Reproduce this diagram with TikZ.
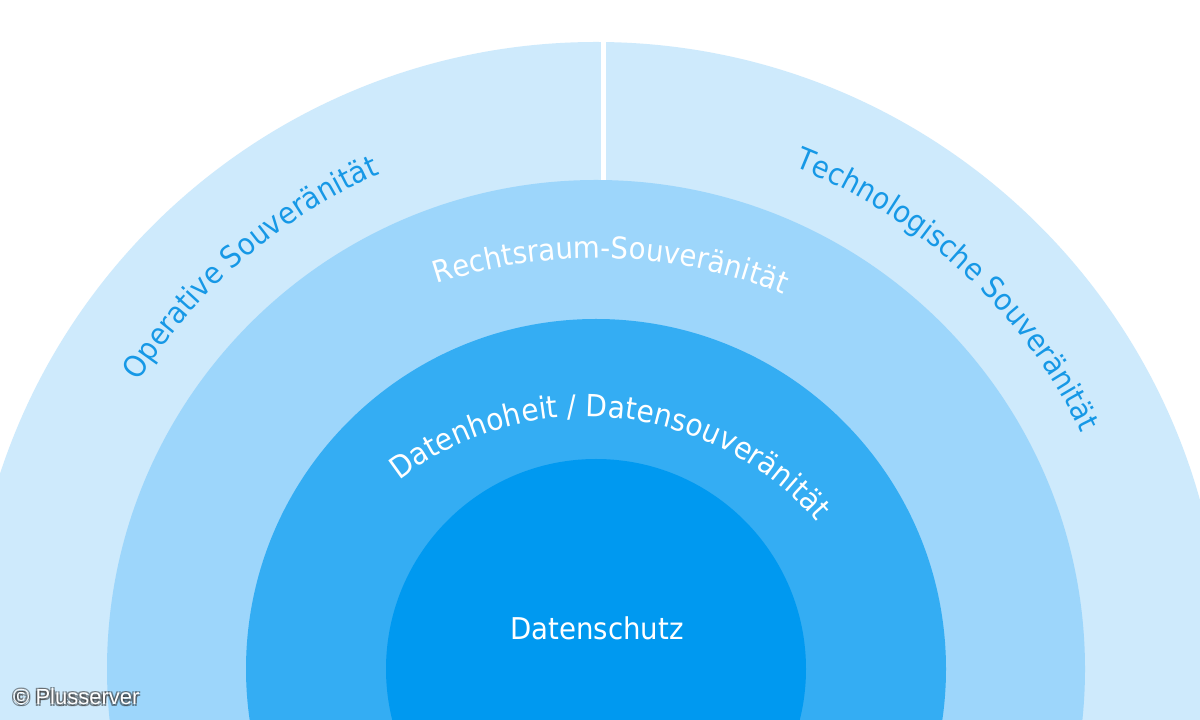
\documentclass[tikz,border=0pt]{standalone}
\usepackage{fontspec}
\usetikzlibrary{decorations.text}
\newfontfamily\tfont{DejaVu Sans}[FakeStretch=0.92]
\newfontfamily\cfont{Liberation Sans}
\definecolor{ringA}{RGB}{206,234,252}
\definecolor{ringB}{RGB}{157,214,251}
\definecolor{ringC}{RGB}{52,173,243}
\definecolor{ringD}{RGB}{0,153,240}
\definecolor{textblue}{RGB}{22,152,230}
\tikzset{
  ringtext/.style={decorate, decoration={text along path, text align=center, text={#1}}},
  copystyle/.style={anchor=base west, inner sep=0pt, font=\cfont\fontsize{22}{26}\selectfont},
}
\newcommand{\ringfont}{\tfont\fontsize{30}{36}\selectfont}
\newcommand{\ringfontb}{\tfont\fontsize{30.5}{36}\selectfont}
\begin{document}
\begin{tikzpicture}[x=1pt,y=1pt]
\useasboundingbox (0,0) rectangle (1200,720);
\clip (0,0) rectangle (1200,720);
\fill[white] (0,0) rectangle (1200,720);
\coordinate (C) at (596,51);
% rings
\fill[ringA] (C) circle[radius=627];
\draw[white, line width=5pt] (603.5,690) -- (603.5,520);
\fill[ringB] (C) circle[radius=489];
\fill[ringC] (C) circle[radius=350];
\fill[ringD] (C) circle[radius=210];
% curved labels
\path[ringtext={|\ringfont\color{textblue}|Operative Souveränität}]
  (C) ++(160.7:540) arc[start angle=160.7, end angle=100.7, radius=540];
\path[ringtext={|\ringfont\color{textblue}|Technologische Souveränität}]
  (C) ++(77.2:540) arc[start angle=77.2, end angle=17.2, radius=540];
\coordinate (CR) at (596,-41);
\path[ringtext={|\ringfont\color{white}|Rechtsraum-Souveränität}]
  (CR) ++(118.3:503) arc[start angle=118.3, end angle=58.3, radius=503];
\coordinate (CD) at (586,-1.5);
\path[ringtext={|\ringfontb\color{white}|Datenhoheit / Datensouveränität}]
  (CD) ++(144.3:305) arc[start angle=144.3, end angle=24.3, radius=305];
% centre label
\node[text=white, font=\ringfont, inner sep=0pt] (schutz) at (597,91.5) {Datenschutz};
% copyright with dark glow
\foreach \dx/\dy [count=\i] in {1.3/1.3,-1.3/1.3,1.3/-1.3,-1.3/-1.3}
  \node[copystyle, text=black!80, opacity=0.55] (sh\i) at (13+\dx,15+\dy) {© Plusserver};
\node[copystyle, text=white] (copy) at (13,15) {© Plusserver};
\end{tikzpicture}
\end{document}
